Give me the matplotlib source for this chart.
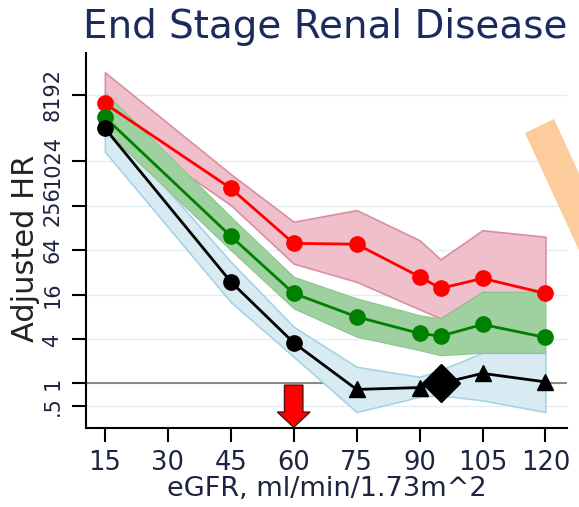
import numpy as np
import matplotlib
matplotlib.use('Agg')
import matplotlib.pyplot as plt
from matplotlib.patches import Polygon

# eGFR categories
egfr = [15, 45, 60, 75, 90, 95, 105, 120]

# red series (HR and 95% CI)
red_hr = [6200, 440, 79, 77, 27.9, 19.4, 26.5, 16.6]
red_hi = [16400, 685, 155, 223, 87, 48, 119, 97]
red_lo = [3960, 261, 42, 23.8, 10.1, 7.6, 17.4, 14.9]

# green series
grn_hr = [4040, 99, 16.6, 8.0, 4.76, 4.38, 6.3, 4.2]
grn_hi = [8780, 181, 27.9, 14.2, 8.4, 7.6, 17.4, 17.4]
grn_lo = [2700, 64, 10.4, 4.3, 2.83, 2.41, 2.6, 2.6]

# black series (blue band)
blk_hr = [2860, 23.9, 3.56, 0.83, 0.88, 1.0, 1.37, 1.05]
blu_hi = [3820, 44.6, 5.86, 1.68, 1.23, 1.52, 2.6, 2.6]
blu_lo = [1380, 12.7, 2.3, 0.41, 0.66, 0.69, 0.59, 0.41]

ytick_vals = [0.5, 1, 4, 16, 64, 256, 1024, 8192]
ytick_labs = ['.5', '1', '4', '16', '64', '256', '1024', '8192']
xtick_vals = [15, 30, 45, 60, 75, 90, 105, 120]

# arrow at eGFR 60 (x, top, tip)
arrow_x = 60
arrow_top = 0.95
arrow_neck = 0.41
arrow_tip = 0.255

txtcol = '#1e2340'

fig = plt.figure(figsize=(5.79, 5.07), dpi=100)
ax = fig.add_axes([0.1485, 0.156, 0.8305, 0.7395])
ax.set_yscale('log', base=2)

ax.fill_between(egfr, red_lo, red_hi, facecolor='#efc0cc', edgecolor='#d98ea2', lw=1.2, zorder=2)
ax.fill_between(egfr, blu_lo, blu_hi, facecolor='#d8ebf3', edgecolor='#a6d3e6', lw=1.2, zorder=2)
ax.fill_between(egfr, grn_lo, grn_hi, facecolor='#9fd09f', edgecolor='#8cc58c', lw=0.8, zorder=2)

ax.plot(egfr, red_hr, color='#ff0000', lw=2, marker='o', ms=11, zorder=4)
ax.plot(egfr, grn_hr, color='#008000', lw=2, marker='o', ms=11, zorder=4)
ax.plot(egfr, blk_hr, color='black', lw=2, zorder=4)
ax.plot(egfr[:3], blk_hr[:3], 'o', color='black', ms=11, zorder=5)
ax.plot(egfr[3:5] + egfr[6:], blk_hr[3:5] + blk_hr[6:], '^', color='black', ms=11.5, zorder=5)
ax.plot(egfr[5], blk_hr[5], 'D', color='black', ms=19, zorder=5)

ax.axhline(1, color='#8a8a8a', lw=1.5, zorder=1)

# red arrow
sw, hw = 2.2, 3.9
arr = Polygon([(arrow_x - sw, arrow_top), (arrow_x + sw, arrow_top), (arrow_x + sw, arrow_neck),
               (arrow_x + hw, arrow_neck), (arrow_x, arrow_tip), (arrow_x - hw, arrow_neck),
               (arrow_x - sw, arrow_neck)], closed=True, facecolor='#ff0000',
              edgecolor='#5a1010', lw=1, zorder=6, clip_on=False)
ax.add_patch(arr)

ax.set_xlim(10.5, 125.1)
ax.set_ylim(2 ** -2, 2 ** 14.87)
ax.set_yticks(ytick_vals)
ax.set_yticklabels(ytick_labs, rotation=90, va='center')
ax.yaxis.set_minor_locator(matplotlib.ticker.NullLocator())
ax.set_xticks(xtick_vals)

for v in ytick_vals:
    if v != 1:
        ax.axhline(v, color='#e3eef3', lw=1, zorder=0)

ax.spines['top'].set_visible(False)
ax.spines['right'].set_visible(False)
for s in ['left', 'bottom']:
    ax.spines[s].set_linewidth(1.5)
ax.tick_params(axis='both', length=10, width=1.5, colors='black')
ax.tick_params(axis='x', labelsize=18.5, labelcolor=txtcol, pad=6)
ax.tick_params(axis='y', labelsize=15, labelcolor=txtcol, pad=7)

ax.set_xlabel('eGFR, ml/min/1.73m^2', fontsize=19.5, color=txtcol, labelpad=0)
ax.set_ylabel('Adjusted HR', fontsize=22, color='#222222')
ax.yaxis.set_label_coords(-0.095, 0.48)

fig.text(325 / 579, 1 - 38 / 507, 'End Stage Renal Disease', fontsize=28,
         color='#1c2b5e', ha='center', va='baseline')

# orange highlight band at the top right
W, H = 579, 507
pts = [(525, 133), (554, 119), (640, 306), (611, 320)]
band = Polygon([(x / W, 1 - y / H) for x, y in pts], closed=True, transform=fig.transFigure,
               facecolor='#fdcc9c', edgecolor='none', zorder=10)
fig.add_artist(band)

fig.savefig('out.png', dpi=100)
